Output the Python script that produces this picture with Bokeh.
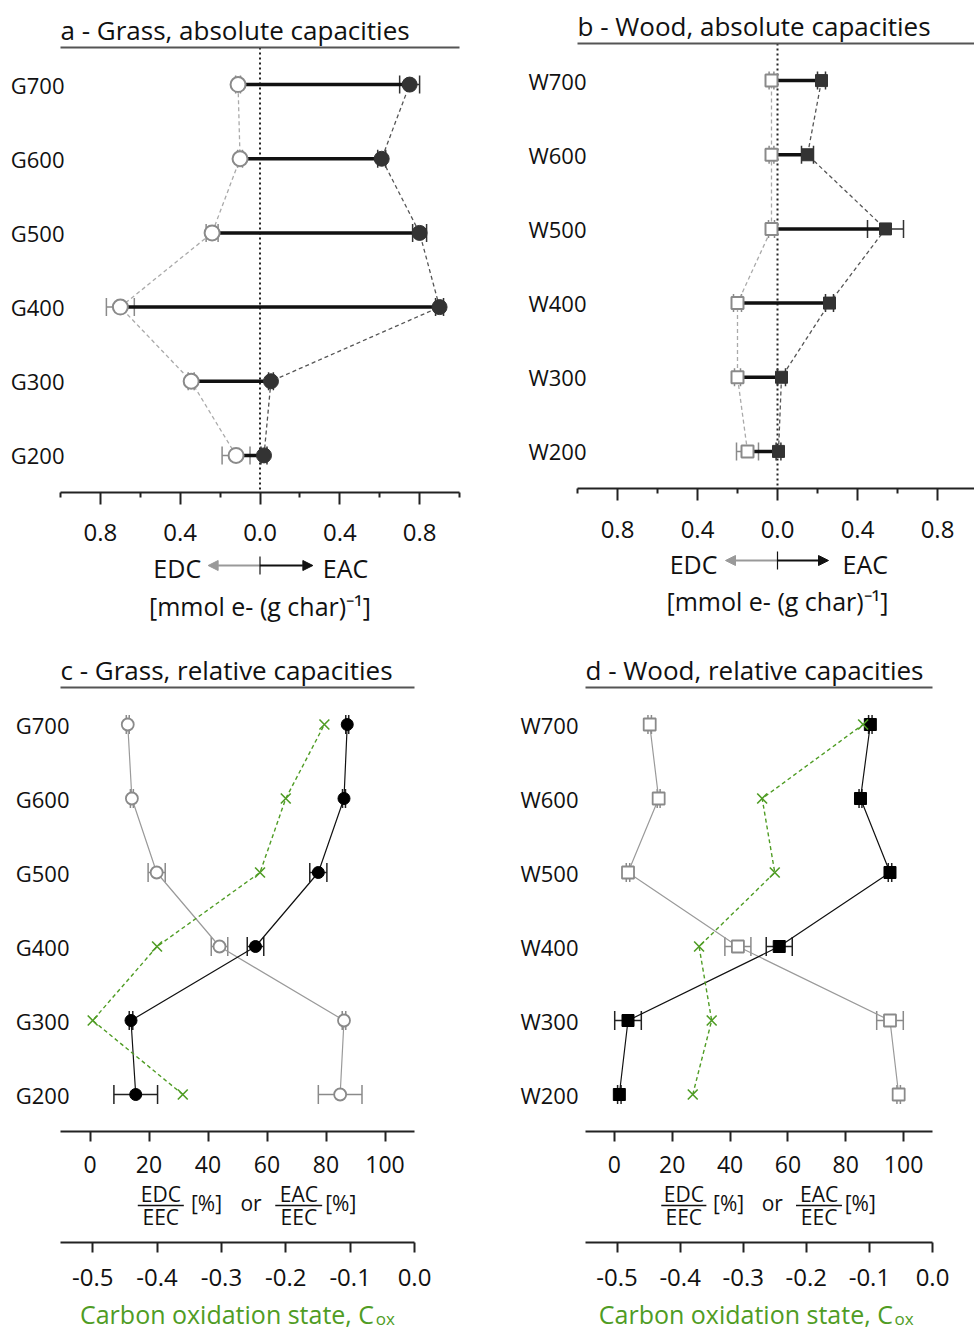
from bokeh.plotting import figure
from bokeh.models import (ColumnDataSource, FactorRange, Range1d, LinearAxis, FixedTicker,
                          Whisker, TeeHead, Span, Arrow, NormalHead, Label)
from bokeh.layouts import column, row
from bokeh.embed import file_html
from bokeh.resources import INLINE

FONT = "Open Sans"
GREEN = "#4f9c24"
INK = "#111111"

# ---------------- data (ordered 200 -> 700, bottom to top) ----------------
grass_labels = ["G200", "G300", "G400", "G500", "G600", "G700"]
wood_labels = ["W200", "W300", "W400", "W500", "W600", "W700"]

# absolute capacities, mmol e- (g char)^-1
grass_edc = [0.12, 0.345, 0.70, 0.24, 0.10, 0.11]
grass_edc_err = [0.07, 0.015, 0.07, 0.03, 0.012, 0.012]
grass_eac = [0.02, 0.055, 0.90, 0.80, 0.61, 0.75]
grass_eac_err = [0.015, 0.012, 0.02, 0.035, 0.02, 0.05]

wood_edc = [0.15, 0.20, 0.20, 0.03, 0.03, 0.03]
wood_edc_err = [0.055, 0.015, 0.02, 0.015, 0.012, 0.012]
wood_eac = [0.005, 0.02, 0.26, 0.54, 0.15, 0.22]
wood_eac_err = [0.012, 0.02, 0.02, 0.09, 0.03, 0.02]

# relative capacities, % of EEC
grass_edc_rel = [84.8, 86.1, 43.9, 22.6, 14.2, 12.8]
grass_eac_rel = [15.5, 13.9, 56.1, 77.4, 86.1, 87.2]
grass_rel_err = [7.4, 0.6, 2.8, 2.9, 0.5, 0.5]
grass_cox = [-0.36, -0.50, -0.40, -0.24, -0.20, -0.14]

wood_edc_rel = [98.3, 95.3, 42.7, 4.7, 15.3, 12.2]
wood_eac_rel = [1.7, 4.7, 57.0, 95.3, 85.1, 88.5]
wood_rel_err = [0.6, 4.6, 4.5, 0.6, 0.5, 0.6]
wood_cox = [-0.38, -0.35, -0.37, -0.25, -0.27, -0.11]

# ticks
abs_ticks = [-0.8, -0.4, 0.0, 0.4, 0.8]
abs_tick_labels = ["0.8", "0.4", "0.0", "0.4", "0.8"]
abs_minor = [-1.0, -0.6, -0.2, 0.2, 0.6, 1.0]
rel_ticks = [0, 20, 40, 60, 80, 100]
rel_tick_labels = ["0", "20", "40", "60", "80", "100"]
cox_ticks = [-0.5, -0.4, -0.3, -0.2, -0.1, 0.0]
cox_tick_labels = ["-0.5", "-0.4", "-0.3", "-0.2", "-0.1", "0.0"]


def clean(p):
    p.outline_line_color = None
    p.grid.visible = False
    p.background_fill_color = "white"
    p.border_fill_color = "white"


def plain(width, height, xr, yr, bl, br, bb=0):
    s = figure(width=width, height=height, x_range=xr, y_range=yr,
               output_backend="svg", toolbar_location=None, tools="", title_location=None,
               min_border_left=bl, min_border_right=br, min_border_top=0, min_border_bottom=bb,
               x_axis_location=None, y_axis_location=None)
    clean(s)
    return s


def style_title(p):
    p.title.text_font = FONT
    p.title.text_font_size = "26px"
    p.title.text_font_style = "normal"
    p.title.text_color = INK
    p.title.align = "left"
    p.title.standoff = 0


def underline(p):
    ax = LinearAxis(ticker=FixedTicker(ticks=[]), axis_line_color="#555555", axis_line_width=2,
                    major_tick_line_color=None, minor_tick_line_color=None,
                    major_tick_out=0, minor_tick_out=0, major_tick_in=0, minor_tick_in=0,
                    major_label_standoff=0, major_label_text_font_size="0px")
    p.add_layout(ax, "above")


def style_cat_axis(p, standoff):
    ax = p.yaxis[0]
    ax.axis_line_color = None
    ax.major_tick_line_color = None
    ax.major_tick_out = 0
    ax.major_tick_in = 0
    ax.major_label_standoff = standoff
    ax.major_label_text_font = FONT
    ax.major_label_text_font_size = "22px"
    ax.major_label_text_color = INK


def style_num_axis(ax, tick_out, standoff, size="24px"):
    ax.axis_line_color = "#222222"
    ax.axis_line_width = 2
    ax.major_tick_line_color = "#222222"
    ax.major_tick_line_width = 2
    ax.major_tick_out = tick_out
    ax.major_tick_in = 0
    ax.minor_tick_line_color = "#222222"
    ax.minor_tick_line_width = 2
    ax.minor_tick_out = 5
    ax.minor_tick_in = 0
    ax.major_label_standoff = standoff
    ax.major_label_text_font = FONT
    ax.major_label_text_font_size = size
    ax.major_label_text_color = INK


def abs_panel(title, cats, edc, edc_err, eac, eac_err, marker, msize, xr,
              width, height, bl, br, bt, bb, ystand, lstand):
    p = figure(width=width, height=height, x_range=xr,
               y_range=FactorRange(factors=cats, range_padding=0),
               output_backend="svg", toolbar_location=None, tools="", title=title,
               min_border_left=bl, min_border_right=br, min_border_top=bt, min_border_bottom=bb,
               x_axis_location=None, y_axis_location="left")
    clean(p)
    style_title(p)
    style_cat_axis(p, ystand)
    underline(p)
    bot = LinearAxis(ticker=FixedTicker(ticks=abs_ticks, minor_ticks=abs_minor))
    bot.major_label_overrides = dict(zip(abs_ticks, abs_tick_labels))
    style_num_axis(bot, 12, lstand)
    p.add_layout(bot, "below")
    p.add_layout(Span(location=0, dimension="height", line_dash="2 3", line_width=2,
                      line_color="#222222", level="underlay"))

    neg = [-v for v in edc]
    src = ColumnDataSource(dict(
        cat=cats, edc=neg, eac=eac,
        edc_lo=[n - e for n, e in zip(neg, edc_err)], edc_hi=[n + e for n, e in zip(neg, edc_err)],
        eac_lo=[v - e for v, e in zip(eac, eac_err)], eac_hi=[v + e for v, e in zip(eac, eac_err)],
    ))
    p.line("edc", "cat", source=src, line_dash="4 3", line_color="#aaaaaa", line_width=1.3)
    p.line("eac", "cat", source=src, line_dash="4 3", line_color="#555555", line_width=1.3)
    p.segment(x0="edc", y0="cat", x1="eac", y1="cat", source=src, line_width=3.5, line_color=INK)
    for lo, hi, col in (("edc_lo", "edc_hi", "#8a8a8a"), ("eac_lo", "eac_hi", "#333333")):
        p.add_layout(Whisker(source=src, base="cat", lower=lo, upper=hi, dimension="width",
                             line_color=col, line_width=1.5,
                             lower_head=TeeHead(size=18, line_color=col, line_width=1.5),
                             upper_head=TeeHead(size=18, line_color=col, line_width=1.5)))
    p.scatter("edc", "cat", source=src, marker=marker, size=msize, fill_color="white",
              line_color="#8a8a8a", line_width=2)
    p.scatter("eac", "cat", source=src, marker=marker, size=msize, fill_color="#333333",
              line_color="#333333", line_width=1)
    return p


def abs_strip(xr, width, height, bl, br, y_arrow, y_text, y_unit, edc_x, eac_x, tip_l, tip_r):
    s = plain(width, height, xr, Range1d(0, height), bl, br)
    s.add_layout(Arrow(x_start=0, y_start=y_arrow, x_end=tip_l, y_end=y_arrow,
                       line_color="#999999", line_width=2,
                       end=NormalHead(size=10, fill_color="#999999", line_color="#999999")))
    s.add_layout(Arrow(x_start=0, y_start=y_arrow, x_end=tip_r, y_end=y_arrow,
                       line_color=INK, line_width=2,
                       end=NormalHead(size=10, fill_color=INK, line_color=INK)))
    s.add_layout(Arrow(x_start=0, y_start=y_arrow - 9, x_end=0, y_end=y_arrow + 9, end=None,
                       line_color=INK, line_width=1.2))
    s.add_layout(Label(x=edc_x, y=y_text, text="EDC", text_align="right", text_baseline="middle",
                       text_font=FONT, text_font_size="25px", text_color=INK))
    s.add_layout(Label(x=eac_x, y=y_text, text="EAC", text_align="left", text_baseline="middle",
                       text_font=FONT, text_font_size="25px", text_color=INK))
    s.add_layout(Label(x=0, y=y_unit, text="[mmol e- (g char)\u207b\u00b9]", text_align="center",
                       text_baseline="middle", text_font=FONT, text_font_size="25px", text_color=INK))
    return s


def rel_panel(title, cats, edc_rel, eac_rel, err, cox, marker, msize, width, bl, br, ystand, c_end):
    xr = Range1d(-10, 110)
    cr = Range1d(-0.55, 0.0)
    p = figure(width=width, height=530, x_range=xr,
               y_range=FactorRange(factors=cats, range_padding=0),
               output_backend="svg", toolbar_location=None, tools="", title=title,
               min_border_left=bl, min_border_right=br, min_border_top=39, min_border_bottom=47,
               x_axis_location=None, y_axis_location="left")
    p.extra_x_ranges = {"cox": cr}
    clean(p)
    style_title(p)
    style_cat_axis(p, ystand)
    underline(p)
    bot = LinearAxis(ticker=FixedTicker(ticks=rel_ticks))
    bot.major_label_overrides = dict(zip(rel_ticks, rel_tick_labels))
    style_num_axis(bot, 10, 14, "23px")
    p.add_layout(bot, "below")

    src = ColumnDataSource(dict(
        cat=cats, edc=edc_rel, eac=eac_rel, cox=cox,
        edc_lo=[v - e for v, e in zip(edc_rel, err)], edc_hi=[v + e for v, e in zip(edc_rel, err)],
        eac_lo=[v - e for v, e in zip(eac_rel, err)], eac_hi=[v + e for v, e in zip(eac_rel, err)],
    ))
    p.line("edc", "cat", source=src, line_color="#9a9a9a", line_width=1.2)
    p.line("eac", "cat", source=src, line_color="#111111", line_width=1.2)
    for lo, hi, col in (("edc_lo", "edc_hi", "#8a8a8a"), ("eac_lo", "eac_hi", "#222222")):
        p.add_layout(Whisker(source=src, base="cat", lower=lo, upper=hi, dimension="width",
                             line_color=col, line_width=1.5,
                             lower_head=TeeHead(size=19, line_color=col, line_width=1.5),
                             upper_head=TeeHead(size=19, line_color=col, line_width=1.5)))
    p.scatter("edc", "cat", source=src, marker=marker, size=msize, fill_color="white",
              line_color="#8a8a8a", line_width=1.8)
    p.scatter("eac", "cat", source=src, marker=marker, size=msize, fill_color="black",
              line_color="black", line_width=1)
    p.line("cox", "cat", source=src, x_range_name="cox", line_color=GREEN, line_dash="4 3",
           line_width=1.4)
    p.scatter("cox", "cat", source=src, x_range_name="cox", marker="x", size=14,
              line_color=GREEN, line_width=1.6)

    # strip: fraction axis title inside its frame, carbon oxidation axis below
    s = plain(width, 118, xr, Range1d(0, 64), bl, br, bb=54)
    s.extra_x_ranges = {"cox": cr}
    cax = LinearAxis(x_range_name="cox", ticker=FixedTicker(ticks=cox_ticks))
    cax.major_label_overrides = dict(zip(cox_ticks, cox_tick_labels))
    style_num_axis(cax, 10, 16)
    s.add_layout(cax, "below")

    def lab(x, y, t):
        s.add_layout(Label(x=x, y=y, text=t, text_align="center", text_baseline="middle",
                           text_font=FONT, text_font_size="21px", text_color=INK))

    lab(24, 49, "EDC")
    lab(24, 26, "EEC")
    lab(39.5, 40, "[%]")
    lab(54.6, 40, "or")
    lab(70.8, 49, "EAC")
    lab(70.8, 26, "EEC")
    lab(85, 40, "[%]")
    for x0, x1 in ((16.2, 31.8), (62.8, 78.7)):
        s.add_layout(Arrow(x_start=x0, y_start=37, x_end=x1, y_end=37, end=None,
                           line_color=INK, line_width=1.5))

    # bottom title strip
    t = plain(width, 34, xr, Range1d(0, 34), bl, br)
    t.add_layout(Label(x=c_end, y=17, text="Carbon oxidation state, C", text_align="right",
                       text_baseline="middle", text_font=FONT, text_font_size="25px",
                       text_color=GREEN))
    t.add_layout(Label(x=c_end + 0.6, y=12, text="ox", text_align="left",
                       text_baseline="middle", text_font=FONT, text_font_size="17px",
                       text_color=GREEN))
    return p, s, t


xa = Range1d(-1.0, 1.0)
xb = Range1d(-1.0, 0.985)

pa = abs_panel("a - Grass, absolute capacities", grass_labels, grass_edc, grass_edc_err,
               grass_eac, grass_eac_err, "circle", 15, xa, 517, 548, 60, 58, 47, 56, -4, 19)
sa = abs_strip(xa, 517, 100, 60, 58, 83, 81, 43, -0.295, 0.315, -0.26, 0.265)

pb = abs_panel("b - Wood, absolute capacities", wood_labels, wood_edc, wood_edc_err,
               wood_eac, wood_eac_err, "square", 12, xb, 457, 545, 60, 0, 43, 57, -9, 20)
sb = abs_strip(xb, 457, 103, 60, 0, 88, 85, 48, -0.30, 0.325, -0.26, 0.255)

pc, sc, tc = rel_panel("c - Grass, relative capacities", grass_labels, grass_edc_rel, grass_eac_rel,
                       grass_rel_err, grass_cox, "circle", 12, 517, 60, 103, -9, 96.3)
pd, sd, td = rel_panel("d - Wood, relative capacities", wood_labels, wood_edc_rel, wood_eac_rel,
                       wood_rel_err, wood_cox, "square", 12, 457, 60, 42, 7, 96.3)

layout = column(row(column(pa, sa), column(pb, sb)),
                row(column(pc, sc, tc), column(pd, sd, td)))

open("out.html", "w").write(file_html(layout, INLINE))
